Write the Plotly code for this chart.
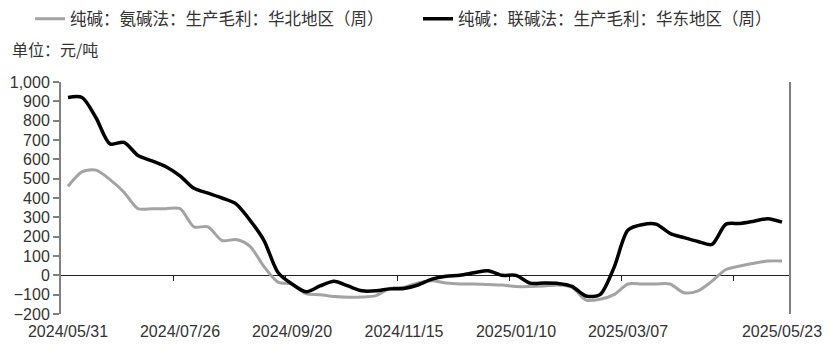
import pandas as pd
import plotly.graph_objects as go

# Weekly categories
weeks = pd.date_range("2024-05-31", "2025-05-23", freq="7D")

# 纯碱：氨碱法：生产毛利：华北地区（周）
north_ammonia = [460, 535, 544, 495, 430, 345, 345, 345, 345, 251,
                 251, 180, 185, 150, 45, -35, -45, -95, -100, -110,
                 -113, -112, -105, -68, -62, -40, -28, -40, -45, -45,
                 -48, -50, -58, -58, -55, -50, -62, -128, -124, -100,
                 -45, -45, -45, -45, -90, -80, -30, 30, 48, 62,
                 74, 74]

# 纯碱：联碱法：生产毛利：华东地区（周）
east_joint = [920, 920, 815, 680, 688, 620, 592, 562, 515, 450,
              425, 400, 370, 285, 180, 15, -45, -85, -55, -30,
              -55, -80, -80, -70, -68, -50, -20, -5, 0, 13,
              24, 0, 0, -40, -40, -42, -57, -107, -100, 40,
              234, 262, 265, 217, 195, 175, 160, 265, 268, 280,
              293, 275]

series_names = ["纯碱：氨碱法：生产毛利：华北地区（周）", "纯碱：联碱法：生产毛利：华东地区（周）"]
tick_dates = ["2024-05-31", "2024-07-26", "2024-09-20", "2024-11-15",
              "2025-01-10", "2025-03-07", "2025-05-23"]
tick_labels = ["2024/05/31", "2024/07/26", "2024/09/20", "2024/11/15",
               "2025/01/10", "2025/03/07", "2025/05/23"]
unit_text = "单位：元/吨"

half = pd.Timedelta(days=3.5)
x_range = [weeks[0] - half, weeks[-1] + half]
boundary_ticks = [weeks[i] + half for i in range(7, len(weeks), 8)]

PL, PT, PW, PH = 61, 82, 728, 232  # plot area in pixels


def px_x(x):
    return (x - PL) / PW


def px_y(y):
    return (PT + PH - y) / PH


fig = go.Figure()
fig.add_trace(go.Scatter(x=weeks, y=north_ammonia, name=series_names[0], mode="lines",
                         line=dict(color="#a3a3a3", width=3, shape="spline", smoothing=0.8)))
fig.add_trace(go.Scatter(x=weeks, y=east_joint, name=series_names[1], mode="lines",
                         line=dict(color="#000000", width=3.5, shape="spline", smoothing=0.8)))
fig.add_trace(go.Scatter(x=[weeks[0]], y=[None], xaxis="x2", showlegend=False,
                         hoverinfo="skip", mode="lines"))

fig.update_layout(
    width=830, height=352,
    margin=dict(l=PL, r=830 - PL - PW, t=PT, b=352 - PT - PH, autoexpand=False),
    paper_bgcolor="white", plot_bgcolor="white",
    font=dict(family="Liberation Sans", color="#333333"),
    xaxis=dict(type="date", range=x_range, tickvals=tick_dates, ticktext=tick_labels,
               ticks="", showline=False, showgrid=False, zeroline=False,
               ticklabelstandoff=6,
               tickfont=dict(size=16, color="#333333")),
    xaxis2=dict(type="date", overlaying="x", anchor="free", position=200 / 1200,
                range=x_range, tickvals=boundary_ticks, ticks="outside", ticklen=5,
                tickcolor="#222222", tickwidth=1, showline=True, linecolor="#222222",
                linewidth=1, showticklabels=False, showgrid=False, zeroline=False,
                layer="below traces"),
    yaxis=dict(range=[-200, 1000], dtick=100, tick0=0, tickformat=",",
               ticks="outside", ticklen=6, tickcolor="#808080", tickwidth=1.5,
               showline=True, linecolor="#808080", linewidth=2, mirror=True,
               showgrid=False, zeroline=False,
               tickfont=dict(size=16, color="#333333")),
    legend=dict(orientation="h", xref="paper", yref="paper",
                x=px_x(30), y=px_y(19), xanchor="left", yanchor="middle",
                font=dict(family="Noto Sans CJK SC", size=16.5, color="#333333"),
                bgcolor="rgba(0,0,0,0)", entrywidth=343),
    annotations=[dict(text=unit_text, xref="paper", yref="paper",
                      x=px_x(10), y=px_y(49), xanchor="left", yanchor="middle",
                      showarrow=False,
                      font=dict(family="Noto Sans CJK SC", size=16, color="#333333"))],
)

fig.write_html("out.html")
